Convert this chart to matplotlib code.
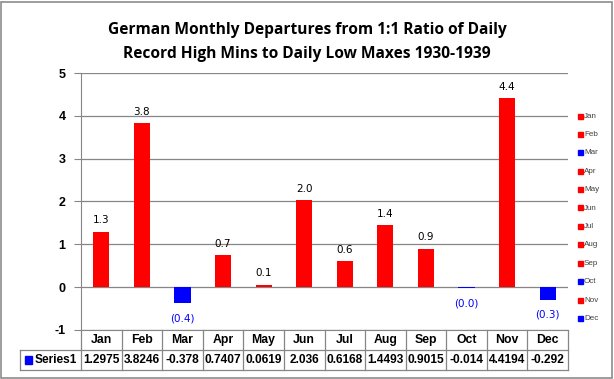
import matplotlib
matplotlib.use("Agg")
import matplotlib.pyplot as plt
from matplotlib.patches import Rectangle
from matplotlib.transforms import blended_transform_factory

months = ["Jan", "Feb", "Mar", "Apr", "May", "Jun", "Jul", "Aug", "Sep", "Oct", "Nov", "Dec"]
values = [1.2975, 3.8246, -0.378, 0.7407, 0.0619, 2.036, 0.6168, 1.4493, 0.9015, -0.014, 4.4194, -0.292]
table_text = ["1.2975", "3.8246", "-0.378", "0.7407", "0.0619", "2.036", "0.6168", "1.4493", "0.9015", "-0.014", "4.4194", "-0.292"]
series_name = "Series1"
title = "German Monthly Departures from 1:1 Ratio of Daily\nRecord High Mins to Daily Low Maxes 1930-1939"
yticks = [-1, 0, 1, 2, 3, 4, 5]

RED = "#FF0000"
BLUE = "#0000FF"
colors = [RED if v >= 0 else BLUE for v in values]

W, H = 614, 379
fig = plt.figure(figsize=(W / 100, H / 100), dpi=100)
fig.patch.set_facecolor("white")
fig.patches.append(Rectangle((1 / W, 1 / H), 1 - 3 / W, 1 - 3 / H, transform=fig.transFigure,
                             fill=False, edgecolor="#8c8c8c", lw=1.2))

left, right, top, bottom = 81, 568, 73, 330
ax = fig.add_axes([left / W, 1 - bottom / H, (right - left) / W, (bottom - top) / H])
x = list(range(len(months)))
ax.bar(x, values, width=0.4, color=colors, zorder=3)
ax.set_xlim(-0.5, len(months) - 0.5)
ax.set_ylim(-1, 5)
ax.set_yticks(yticks)
ax.set_yticklabels([str(t) for t in yticks], fontweight="bold", fontsize=9, family="Liberation Sans")
ax.tick_params(axis="y", length=5, color="#868686", pad=6)
ax.set_xticks([])
ax.grid(axis="y", color="#868686", lw=0.9, zorder=0)
for s in ["top", "right"]:
    ax.spines[s].set_visible(False)
ax.spines["left"].set_color("#868686")
ax.spines["bottom"].set_color("#868686")

# data labels
for xi, v in zip(x, values):
    if v >= 0:
        ax.annotate(f"{v:.1f}", (xi, v), xytext=(0, 8), textcoords="offset points",
                    ha="center", va="center", fontsize=7.5, color="black", family="DejaVu Sans")
    else:
        ax.annotate(f"({abs(v):.1f})", (xi, v), xytext=(0, -11), textcoords="offset points",
                    ha="center", va="center", fontsize=7.5, color=BLUE, family="DejaVu Sans")

# title
fig.text(0.5, 1 - 42 / H, title, ha="center", va="center", fontsize=11.2, fontweight="bold",
         family="Open Sans", linespacing=1.65)

# data table drawn manually
tr = blended_transform_factory(ax.transData, ax.transAxes)
ph = bottom - top
rh = 20 / ph
lc = "#868686"
n = len(months)
xl = -0.5 - 61 / ((right - left) / n)
for k in range(n + 1):
    ax.plot([k - 0.5, k - 0.5], [0, -2 * rh], transform=tr, color=lc, lw=0.9, clip_on=False)
ax.plot([xl, xl], [-rh, -2 * rh], transform=tr, color=lc, lw=0.9, clip_on=False)
ax.plot([xl, n - 0.5], [-rh, -rh], transform=tr, color=lc, lw=0.9, clip_on=False)
ax.plot([xl, n - 0.5], [-2 * rh, -2 * rh], transform=tr, color=lc, lw=0.9, clip_on=False)
for k, m in enumerate(months):
    ax.text(k, -0.5 * rh, m, transform=tr, ha="center", va="center", fontsize=8.8,
            fontweight="bold", family="Liberation Sans")
    ax.text(k, -1.5 * rh, table_text[k], transform=tr, ha="center", va="center", fontsize=8.6,
            fontweight="bold", family="Liberation Sans")
ax.add_patch(Rectangle((xl + 0.12, -1.5 * rh - 0.014), 0.18, 0.028, transform=tr,
                       color=BLUE, clip_on=False))
ax.text(xl + 0.36, -1.5 * rh, series_name, transform=tr, ha="left", va="center", fontsize=8.6,
        fontweight="bold", family="Liberation Sans")

# legend
for i, (m, c) in enumerate(zip(months, colors)):
    yy = 1 - (116 + i * 18.4) / H
    fig.patches.append(Rectangle((578 / W, yy - 2.5 / H), 5 / W, 5 / H, transform=fig.transFigure,
                                 color=c))
    fig.text(584 / W, yy, m, ha="left", va="center", fontsize=5.8, color="#404040",
             family="Liberation Sans")

fig.savefig("out.png", dpi=100)
